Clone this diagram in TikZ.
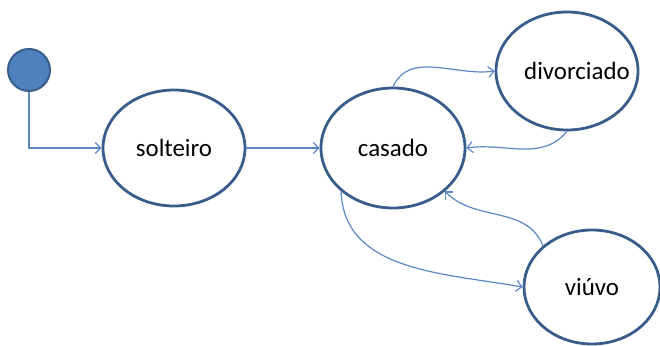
\documentclass[tikz,border=0pt]{standalone}
\usepackage{fontspec}
\setmainfont{Carlito}
\usetikzlibrary{shapes.geometric,arrows.meta}
\definecolor{stroke}{HTML}{385D8A}
\definecolor{fillblue}{HTML}{4F81BD}
\definecolor{linkblue}{HTML}{5B87C5}
\tikzset{
  state/.style={ellipse,draw=stroke,line width=2.8bp,fill=white,inner sep=0pt,font=\fontsize{25}{28}\selectfont},
  initstate/.style={circle,draw=stroke,line width=2bp,fill=fillblue,inner sep=0pt,minimum size=42bp},
  link/.style={draw=linkblue,line width=1.2bp,-{Straight Barb[length=5.5bp,width=11bp,line width=1.2bp]}}
}
\begin{document}
\begin{tikzpicture}[x=1bp,y=1bp]
\useasboundingbox (0,0) rectangle (660,345);
\node[initstate] (init) at (29,275) {};
\node[state,minimum width=142bp,minimum height=116bp] (solteiro) at (174,197) {solteiro};
\node[state,minimum width=144bp,minimum height=120bp] (casado) at (393,197) {casado};
\node[state,minimum width=142bp,minimum height=118bp] (divorciado) at (567,274) {\makebox[0pt]{\hspace*{20bp}divorciado}};
\node[state,minimum width=136bp,minimum height=114bp] (viuvo) at (592,58) {viúvo};
\draw[link] (init.south) |- (solteiro.west);
\draw[link] (solteiro.east) -- (casado.west);
\draw[link] (casado.north) to[out=65,in=188] (divorciado.west);
\draw[link] (divorciado.south) to[out=-130,in=8] (casado.east);
\draw[link] (casado.south west) to[out=-88,in=170] (viuvo.west);
\draw[link] (viuvo.north west) to[out=112,in=-45] (casado.south east);
\end{tikzpicture}
\end{document}
